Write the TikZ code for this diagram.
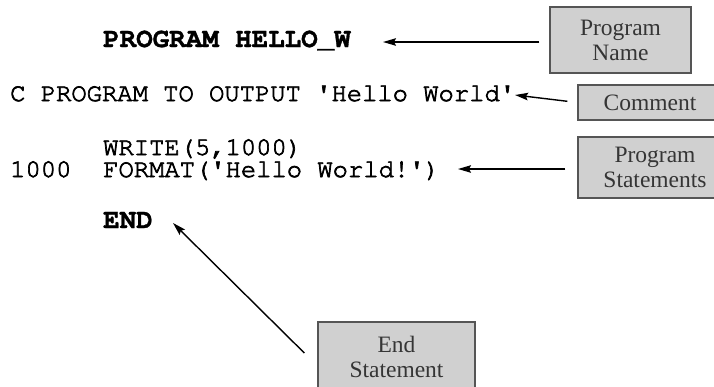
\documentclass[tikz,border=0pt]{standalone}
\usepackage[T1]{fontenc}
\usepackage{fontspec}
\setmainfont{Liberation Serif}
\usetikzlibrary{arrows.meta}
% Courier (Type 1) for the Fortran listing, drawn a little heavier
\newcommand\fcode{\fontencoding{T1}\fontfamily{pcr}\fontseries{m}\fontshape{n}\fontsize{25.5}{26}\selectfont}
\newcommand\fcodeb{\fontencoding{T1}\fontfamily{pcr}\fontseries{b}\fontshape{n}\fontsize{27.5}{28}\selectfont}
\newcommand\heavy[2]{\special{pdf:literal direct 2 Tr #1 w}#2\special{pdf:literal direct 0 Tr}}
\newcommand\sq{\textquotesingle}
\definecolor{boxfill}{HTML}{D0D0D0}
\definecolor{boxline}{HTML}{555555}
\definecolor{boxtext}{HTML}{353535}
\tikzset{
  code/.style={anchor=base west, inner sep=0pt, font=\fcode},
  codeb/.style={anchor=base west, inner sep=0pt, font=\fcodeb},
  label box/.style={draw=boxline, line width=1.3pt, fill=boxfill, text=boxtext,
    align=center, inner sep=0pt, font=\fontsize{23.5}{25}\selectfont},
  arr/.style={-{Stealth[length=13pt,width=7.5pt,inset=2pt]}, line width=1.4pt, black},
}
\begin{document}
\begin{tikzpicture}[x=1pt,y=-1pt]
\useasboundingbox (0,0) rectangle (714,386);
\clip (0,0) rectangle (714,386);
\fill[white] (0,0) rectangle (714,386);

% the listing
\node[codeb] (l1) at (103,47) {\heavy{0.3}{PROGRAM HELLO\_W}};
\node[code] (l2) at (10,101) {\heavy{0.7}{C PROGRAM TO OUTPUT \sq Hello World\sq}};
\node[code] (l3) at (103,155) {\heavy{0.7}{WRITE(5,1000)}};
\node[code] (l4a) at (10,177) {\heavy{0.7}{1000}};
\node[code] (l4) at (103,177) {\heavy{0.7}{FORMAT(\sq Hello World!\sq)}};
\node[codeb] (l5) at (103,228) {\heavy{0.3}{END}};

% annotation boxes
\node[label box, minimum width=141pt, minimum height=66pt] (pn) at (620.5,40) {Program\\Name};
\node[label box, minimum width=144pt, minimum height=35pt] (cm) at (650,102.5) {Comment};
\node[label box, minimum width=154pt, minimum height=61pt] (ps) at (655,167.5) {Program\\Statements};
\node[label box, minimum width=157pt, minimum height=70pt] (es) at (396.5,357) {End\\Statement};

% arrow tips next to the listing
\coordinate (a1) at (383,42);
\coordinate (a2) at (515,95);
\coordinate (a3) at (458,169);
\coordinate (a4) at (173,223);

\draw[arr, shorten <=10pt] (pn.west |- a1) -- (a1);
\draw[arr, shorten <=10pt] (cm.west) -- (a2);
\draw[arr, shorten <=12pt] (ps.west |- a3) -- (a3);
\draw[arr] ([xshift=-13pt,yshift=4pt]es.west) -- (a4);
\end{tikzpicture}
\end{document}
